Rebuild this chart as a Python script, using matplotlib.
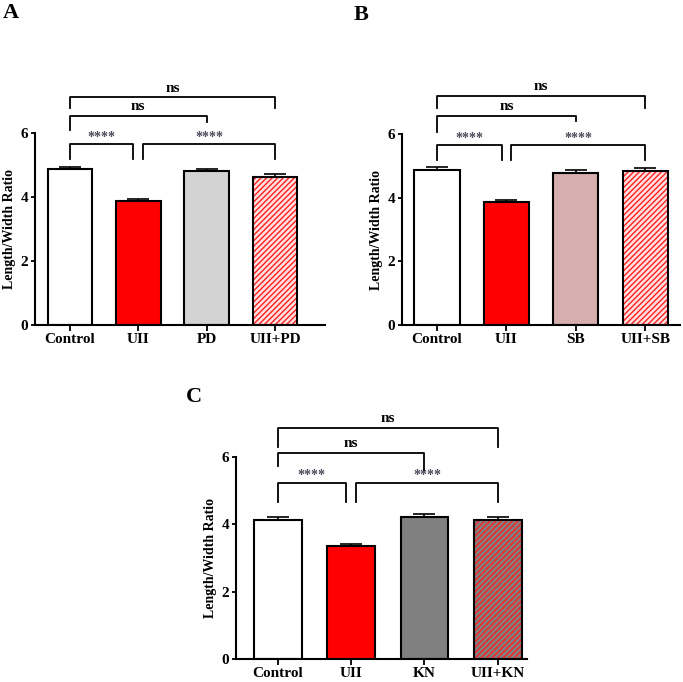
import matplotlib.pyplot as plt

plt.rcParams['font.family'] = ['Liberation Serif', 'DejaVu Serif']
plt.rcParams['font.weight'] = 'bold'
plt.rcParams['hatch.linewidth'] = 1.0

# Data
groups_a = ["Control", "UII", "PD", "UII+PD"]
means_a = [4.87, 3.86, 4.80, 4.63]
errs_a = [0.08, 0.07, 0.08, 0.09]

groups_b = ["Control", "UII", "SB", "UII+SB"]
means_b = [4.87, 3.86, 4.79, 4.85]
errs_b = [0.08, 0.07, 0.08, 0.09]

groups_c = ["Control", "UII", "KN", "UII+KN"]
means_c = [4.13, 3.37, 4.21, 4.13]
errs_c = [0.08, 0.06, 0.09, 0.08]

# brackets: (x1, x2, y, left leg end, right leg end, label)
brackets_a = [(0, 3, 7.12, 6.78, 6.78, "ns"),
              (0, 2, 6.53, 6.10, 6.35, "ns"),
              (0, 0.93, 5.65, 5.20, 5.20, "****"),
              (1.07, 3, 5.65, 5.20, 5.20, "****")]
brackets_b = [(0, 3, 7.20, 6.82, 6.82, "ns"),
              (0, 2, 6.57, 6.06, 6.41, "ns"),
              (0, 0.93, 5.65, 5.18, 5.18, "****"),
              (1.07, 3, 5.65, 5.18, 5.18, "****")]
brackets_c = [(0, 3, 6.86, 6.30, 6.30, "ns"),
              (0, 2, 6.12, 5.73, 5.61, "ns"),
              (0, 0.93, 5.23, 4.66, 4.66, "****"),
              (1.07, 3, 5.23, 4.66, 4.66, "****")]

W, H = 683, 682
fig = plt.figure(figsize=(W / 100, H / 100), dpi=100)


def panel(box, xlim, groups, means, errs, third_color, hatch_bg, brackets, letter, letter_xy):
    left, top, right, bottom = box
    ax = fig.add_axes([left / W, 1 - bottom / H, (right - left) / W, (bottom - top) / H])
    x = list(range(len(groups)))
    faces = ["white", "#ff0000", third_color, hatch_bg]
    for i in x:
        if i == 3:
            ax.bar(i, means[i], width=0.65, color=hatch_bg, edgecolor="#ff2020",
                   hatch="//////", linewidth=0, zorder=2)
            ax.bar(i, means[i], width=0.65, facecolor="none", edgecolor="black",
                   linewidth=1.5, zorder=3)
        else:
            ax.bar(i, means[i], width=0.65, color=faces[i], edgecolor="black",
                   linewidth=1.5, zorder=2)
        ax.errorbar(i, means[i], yerr=[[0], [errs[i]]], fmt="none", ecolor="black",
                    elinewidth=1.2, capsize=8, capthick=1.2, zorder=4)

    for x1, x2, y, l1, l2, lab in brackets:
        ax.plot([x1, x1, x2, x2], [l1, y, y, l2], color="black", lw=1.3,
                clip_on=False, zorder=5)
        if lab == "ns":
            ax.text((x1 + x2) / 2, y + 0.08, lab, ha="center", va="bottom",
                    fontsize=11, fontweight="bold")
        else:
            ax.text((x1 + x2) / 2, y + 0.02, lab, ha="center", va="bottom",
                    fontsize=10, color="#4a4a5a")

    ax.set_xlim(*xlim)
    ax.set_ylim(0, 6)
    ax.set_yticks([0, 2, 4, 6])
    ax.set_xticks(x)
    ax.set_xticklabels(groups, fontsize=11, fontweight="bold")
    ax.tick_params(axis="y", labelsize=11, width=1.3, length=3, pad=2)
    ax.tick_params(axis="x", width=1.3, length=4, pad=2)
    for lbl in ax.get_yticklabels():
        lbl.set_fontweight("bold")
    ax.set_ylabel("Length/Width Ratio", fontsize=10, fontweight="bold", labelpad=3)
    for s in ["top", "right"]:
        ax.spines[s].set_visible(False)
    for s in ["left", "bottom"]:
        ax.spines[s].set_linewidth(1.5)
    fig.text(letter_xy[0] / W, 1 - letter_xy[1] / H, letter, fontsize=16,
             fontweight="bold", ha="left", va="center")
    return ax


panel((35, 133, 325, 325), (-0.51, 3.73), groups_a, means_a, errs_a,
      "#d3d3d3", "#ffe0e0", brackets_a, "A", (3, 13))
panel((402, 134, 680, 325), (-0.505, 3.5), groups_b, means_b, errs_b,
      "#d6aeae", "#ffe0e0", brackets_b, "B", (354, 15))
panel((236, 457, 527, 659), (-0.57, 3.4), groups_c, means_c, errs_c,
      "#808080", "#808080", brackets_c, "C", (186, 397))

fig.savefig("out.png", dpi=100)
